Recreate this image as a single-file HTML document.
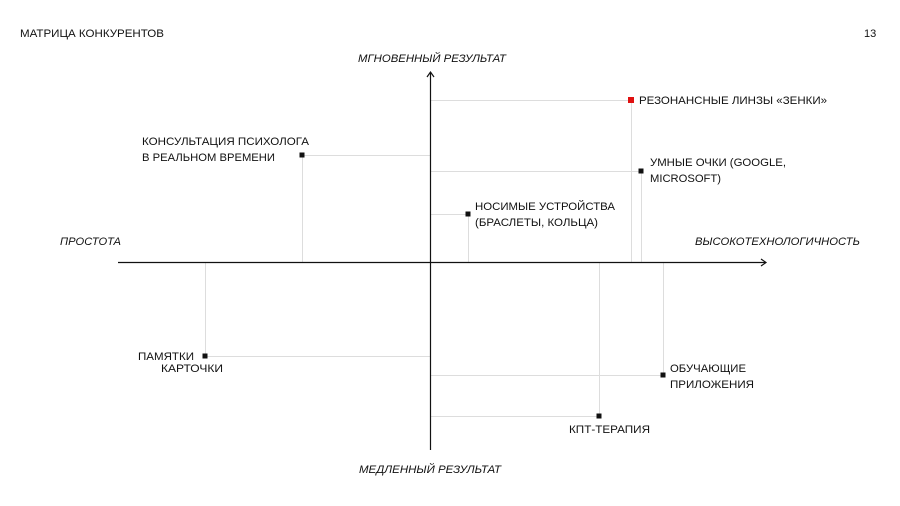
<!DOCTYPE html>
<html><head><meta charset="utf-8"><style>
html,body{margin:0;padding:0;background:#fff;}
svg{display:block;}
text{font-family:"Liberation Sans",sans-serif;fill:#111;font-size:11px;}
.it{font-style:italic;}
</style></head><body>
<svg width="900" height="506" viewBox="0 0 900 506" xmlns="http://www.w3.org/2000/svg">
<rect width="900" height="506" fill="#fff"/>
<text x="20" y="37" textLength="144" lengthAdjust="spacingAndGlyphs">МАТРИЦА КОНКУРЕНТОВ</text>
<text x="864" y="37">13</text>

<g stroke="#ddd" stroke-width="1" fill="none">
<path d="M430.5 100.5H631.5V262"/>
<path d="M430.5 171.5H641.5V262"/>
<path d="M430.5 214.5H468.5V262"/>
<path d="M302.5 155.5H430.5M302.5 155.5V262"/>
<path d="M205.5 356.5H430.5M205.5 262V356.5"/>
<path d="M430.5 375.5H663.5V262"/>
<path d="M430.5 416.5H599.5V262"/>
</g>

<g stroke="#111" stroke-width="1.2" fill="none">
<line x1="430.5" y1="72" x2="430.5" y2="450"/>
<path d="M427 77L430.5 72L434 77"/>
<line x1="118" y1="262.5" x2="766" y2="262.5"/>
<path d="M761 259L766 262.5L761 266"/>
</g>

<text class="it" x="358" y="62" textLength="148" lengthAdjust="spacingAndGlyphs">МГНОВЕННЫЙ РЕЗУЛЬТАТ</text>
<text class="it" x="359" y="473" textLength="142" lengthAdjust="spacingAndGlyphs">МЕДЛЕННЫЙ РЕЗУЛЬТАТ</text>
<text class="it" x="60" y="245" textLength="61" lengthAdjust="spacingAndGlyphs">ПРОСТОТА</text>
<text class="it" x="695" y="245" textLength="165" lengthAdjust="spacingAndGlyphs">ВЫСОКОТЕХНОЛОГИЧНОСТЬ</text>

<rect x="628" y="97" width="6" height="6" fill="#e01010"/>
<text x="639" y="104" textLength="188" lengthAdjust="spacingAndGlyphs">РЕЗОНАНСНЫЕ ЛИНЗЫ «ЗЕНКИ»</text>

<rect x="638.5" y="168.5" width="5" height="5" fill="#111"/>
<text x="650" y="166" textLength="136" lengthAdjust="spacingAndGlyphs">УМНЫЕ ОЧКИ (GOOGLE,</text>
<text x="650" y="182" textLength="71" lengthAdjust="spacingAndGlyphs">MICROSOFT)</text>

<rect x="465.5" y="211.5" width="5" height="5" fill="#111"/>
<text x="475" y="210" textLength="140" lengthAdjust="spacingAndGlyphs">НОСИМЫЕ УСТРОЙСТВА</text>
<text x="475" y="226" textLength="123" lengthAdjust="spacingAndGlyphs">(БРАСЛЕТЫ, КОЛЬЦА)</text>

<rect x="299.5" y="152.5" width="5" height="5" fill="#111"/>
<text x="142" y="145" textLength="167" lengthAdjust="spacingAndGlyphs">КОНСУЛЬТАЦИЯ ПСИХОЛОГА</text>
<text x="142" y="161" textLength="133" lengthAdjust="spacingAndGlyphs">В РЕАЛЬНОМ ВРЕМЕНИ</text>

<rect x="202.5" y="353.5" width="5" height="5" fill="#111"/>
<text x="138" y="360" textLength="56" lengthAdjust="spacingAndGlyphs">ПАМЯТКИ</text>
<text x="161" y="372" textLength="62" lengthAdjust="spacingAndGlyphs">КАРТОЧКИ</text>

<rect x="660.5" y="372.5" width="5" height="5" fill="#111"/>
<text x="670" y="372" textLength="76" lengthAdjust="spacingAndGlyphs">ОБУЧАЮЩИЕ</text>
<text x="670" y="388" textLength="84" lengthAdjust="spacingAndGlyphs">ПРИЛОЖЕНИЯ</text>

<rect x="596.5" y="413.5" width="5" height="5" fill="#111"/>
<text x="569" y="433" font-size="12" textLength="81" lengthAdjust="spacingAndGlyphs">КПТ-ТЕРАПИЯ</text>
</svg>
</body></html>
